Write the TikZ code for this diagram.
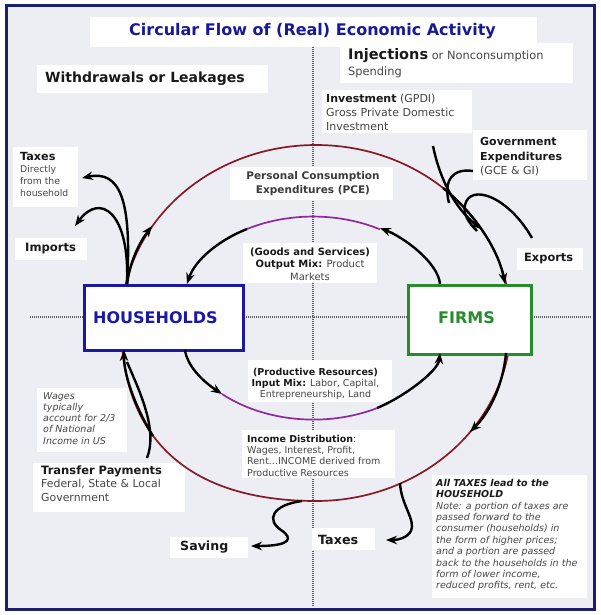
\documentclass[tikz,border=0pt]{standalone}
\usepackage{fontspec}
\setmainfont{DejaVu Sans}
\usetikzlibrary{arrows.meta}
\definecolor{bgc}{RGB}{236,238,243}
\definecolor{framec}{RGB}{30,30,110}
\definecolor{ttl}{RGB}{25,25,150}
\definecolor{hhblue}{RGB}{25,25,165}
\definecolor{fgreen}{RGB}{40,140,45}
\definecolor{outerred}{RGB}{135,25,40}
\definecolor{innerpur}{RGB}{145,40,160}
\definecolor{labelc}{RGB}{25,25,25}
\definecolor{txtc}{RGB}{70,70,70}
\definecolor{dotc}{RGB}{90,90,100}
\begin{document}
\begin{tikzpicture}[x=1pt,y=-1pt,
  wbox/.style={fill=white},
  flow/.style={line width=2.4pt, draw=black, -{Stealth[length=11pt,width=8.5pt]}},
  plainline/.style={line width=2.4pt, draw=black},
  lbl/.style={inner sep=0pt, text=labelc},
  blk/.style={inner sep=0pt, text=txtc, anchor=north west, align=left},
  cblk/.style={inner sep=0pt, text=txtc, anchor=north, align=center},
  dotline/.style={draw=dotc, line width=1.3pt, dash pattern=on 1pt off 1pt},
  bigbox/.style={fill=white, line width=2.6pt, anchor=north west, inner sep=0pt}
]
\useasboundingbox (0,0) rectangle (600,615);
\fill[white] (0,0) rectangle (600,615);
\fill[bgc] (6,6) rectangle (594,609);

% dotted axes
\draw[dotline] (313,47) -- (313,607);
\draw[dotline] (30,317) -- (592,317);

% white label backgrounds
\fill[wbox] (90,17) rectangle (537,47);
\fill[wbox] (37,65) rectangle (268,93);
\fill[wbox] (340,43) rectangle (573,83);
\fill[wbox] (322,90) rectangle (472,133);
\fill[wbox] (473,130) rectangle (587,180);
\fill[wbox] (13,147) rectangle (78,207);
\fill[wbox] (15,238) rectangle (87,260);
\fill[wbox] (230,167) rectangle (393,200);
\fill[wbox] (243,243) rectangle (377,283);
\fill[wbox] (517,248) rectangle (583,270);
\fill[wbox] (248,360) rectangle (392,402);
\fill[wbox] (242,430) rectangle (395,478);
\fill[wbox] (37,388) rectangle (127,452);
\fill[wbox] (33,463) rectangle (185,512);
\fill[wbox] (170,537) rectangle (248,558);
\fill[wbox] (312,528) rectangle (375,550);
\fill[wbox] (432,475) rectangle (587,598);

% connector end points
\coordinate (hhTa) at (127,284);
\coordinate (hhTb) at (187,284);
\coordinate (hhBa) at (124,350);
\coordinate (hhBb) at (185,350);
\coordinate (fTa) at (440,284);
\coordinate (fTb) at (505,284);
\coordinate (fBa) at (440,353);
\coordinate (fBb) at (506,353);
\coordinate (taxtip) at (82,178);
\coordinate (imptip) at (75,226);
\coordinate (outerUL) at (152,226);
\coordinate (goodsL) at (247,229);
\coordinate (goodsR) at (380,228);
\coordinate (inputL) at (222,394);
\coordinate (inputR) at (377,408);
\coordinate (pceR) at (443,188);
\coordinate (outerLR) at (470,432);
\coordinate (invstart) at (433,146);
\coordinate (invtip) at (481,229);
\coordinate (govstart) at (473,171);
\coordinate (expstart) at (532,238);
\coordinate (savstart) at (302,501);
\coordinate (savtip) at (251,546);
\coordinate (taxbstart) at (400,483);
\coordinate (taxbtip) at (386,540);
\coordinate (transstart) at (147,458);
\coordinate (incomeL) at (153,436);

% circular flows
\draw[outerred, line width=1.7pt] (121,323) arc[start angle=180, end angle=450, x radius=195, y radius=178]
   .. controls (189,501) and (121,439) .. cycle;
\draw[innerpur, line width=1.7pt] (goodsL) arc[start angle=241.4, end angle=298.9, x radius=138, y radius=102];
\draw[innerpur, line width=1.7pt] (inputL) arc[start angle=131.5, end angle=62.3, x radius=138, y radius=102];

% sector boxes
\node[bigbox, draw=hhblue, minimum width=159pt, minimum height=65pt] (hh) at (83,284) {};
\node[bigbox, draw=fgreen, minimum width=123pt, minimum height=69pt] (firms) at (407,284) {};
\node[lbl, anchor=west, font=\bfseries\fontsize{16}{19}\selectfont, text=hhblue] (hhlabel) at (93,318) {HOUSEHOLDS};
\node[lbl, anchor=west, font=\bfseries\fontsize{16}{19}\selectfont, text=fgreen] (firmslabel) at (438,318) {FIRMS};

% black flow arrows
\draw[flow] (hhTa) .. controls (132,200) and (120,170) .. (taxtip);
\draw[flow] (hhTa) .. controls (130,212) and (100,192) .. (imptip);
\draw[flow] (hhTa) .. controls (130,262) and (139,243) .. (outerUL);
\draw[flow] (goodsL) .. controls (219,240) and (195,260) .. (hhTb);
\draw[flow] (fTa) .. controls (438,262) and (403,237) .. (goodsR);
\draw[flow] (hhBb) .. controls (187,365) and (201,380) .. (inputL);
\draw[flow] (inputR) .. controls (400,399) and (438,372) .. (fBa);
\draw[flow] (pceR) .. controls (473,212) and (498,248) .. (fTb);
\draw[flow] (invstart) .. controls (440,180) and (455,208) .. (invtip);
\draw[plainline] (govstart) .. controls (453,168) and (443,180) .. (449,203);
\draw[plainline] (expstart) .. controls (508,196) and (470,183) .. (465,205) .. controls (463,214) and (468,222) .. (477,231);
\draw[flow] (fBb) .. controls (503,385) and (490,412) .. (outerLR);
\draw[flow] (taxbstart) .. controls (401,505) and (416,520) .. (411,531) .. controls (407,538) and (398,540) .. (taxbtip);
\draw[flow] (savstart) .. controls (272,505) and (266,520) .. (281,530) .. controls (293,538) and (292,546) .. (savtip);
\draw[flow] (incomeL) .. controls (138,412) and (124,378) .. (hhBa);
\draw[plainline] (transstart) .. controls (158,430) and (140,392) .. (127,362);

% texts
\node[lbl, font=\bfseries\fontsize{16}{19}\selectfont, text=ttl] (title) at (312.5,31) {Circular Flow of (Real) Economic Activity};
\node[lbl, anchor=west, font=\bfseries\fontsize{14}{17}\selectfont] (withdraw) at (45,79) {Withdrawals or Leakages};
\node[blk, font=\fontsize{11.4}{16}\selectfont] (inj) at (348,48.5) {{\fontsize{14.5}{16}\selectfont\bfseries\color{labelc}Injections} or Nonconsumption\\Spending};
\node[blk, font=\fontsize{11}{14}\selectfont] (inv) at (326,94.3) {\textbf{\color{labelc}Investment} (GPDI)\\Gross Private Domestic\\Investment};
\node[blk, font=\fontsize{11}{14.5}\selectfont] (gov) at (480,137.3) {\textbf{\color{labelc}Government}\\\textbf{\color{labelc}Expenditures}\\(GCE \& GI)};
\node[blk, font=\fontsize{9.3}{12}\selectfont] (taxtop) at (20,151.9) {{\fontsize{11.2}{12}\selectfont\bfseries\color{labelc}Taxes}\\Directly\\from the\\household};
\node[lbl, anchor=west, font=\bfseries\fontsize{11.6}{14}\selectfont] (imports) at (25,248.5) {Imports};
\node[cblk, font=\bfseries\fontsize{10.5}{14}\selectfont, text=labelc!85!white] (pce) at (313,171.5) {Personal Consumption\\Expenditures (PCE)};
\node[cblk, font=\fontsize{10}{12.3}\selectfont] (goods) at (310,247.7) {\textbf{\color{labelc}(Goods and Services)}\\\textbf{\color{labelc}Output Mix:} Product\\Markets};
\node[lbl, anchor=west, font=\bfseries\fontsize{11.4}{14}\selectfont] (exports) at (524,258.5) {Exports};
\node[cblk, font=\fontsize{9.5}{11}\selectfont] (prod) at (315.5,367.9) {\textbf{\color{labelc}(Productive Resources)}\\\textbf{\color{labelc}Input Mix:} Labor, Capital,\\Entrepreneurship, Land};
\node[blk, font=\fontsize{9.5}{11.3}\selectfont] (income) at (247,434.9) {\textbf{\color{labelc}Income Distribution}:\\Wages, Interest, Profit,\\Rent...INCOME derived from\\Productive Resources};
\node[blk, font=\itshape\fontsize{9.5}{11.3}\selectfont] (wages) at (43,391.9) {Wages\\typically\\account for 2/3\\of National\\Income in US};
\node[blk, font=\fontsize{10.9}{13.5}\selectfont] (transfer) at (41,465.1) {{\fontsize{11.5}{13.5}\selectfont\bfseries\color{labelc}Transfer Payments}\\Federal, State \& Local\\Government};
\node[lbl, anchor=west, font=\bfseries\fontsize{12.6}{15}\selectfont] (saving) at (180,547.5) {Saving};
\node[lbl, anchor=west, font=\bfseries\fontsize{12.7}{15}\selectfont] (taxbot) at (318,539.5) {Taxes};
\node[blk, font=\itshape\fontsize{9.5}{11.4}\selectfont] (alltax) at (436,478.9) {\textbf{\color{labelc}All TAXES lead to the}\\\textbf{\color{labelc}HOUSEHOLD}\\Note: a portion of taxes are\\passed forward to the\\consumer (households) in\\the form of higher prices;\\and a portion are passed\\back to the households in the\\form of lower income,\\reduced profits, rent, etc.};

% frame
\draw[framec, line width=3pt] (6,6) rectangle (594,609);
\end{tikzpicture}
\end{document}
